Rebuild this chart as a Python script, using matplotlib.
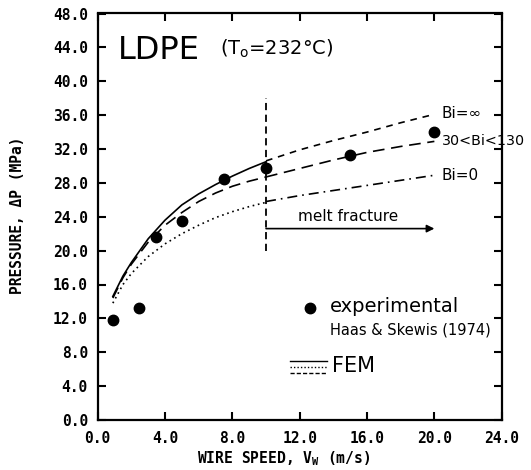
import matplotlib
matplotlib.use("Agg")
import matplotlib.pyplot as plt

# ---------------- data ----------------
exp_x = [0.9, 2.45, 3.45, 5.0, 7.5, 10.0, 15.0, 20.0]
exp_y = [11.8, 13.2, 21.6, 23.5, 28.4, 29.8, 31.3, 34.0]

# FEM curves, below melt-fracture limit (x <= 10)
fem_x_low = [0.9, 1.5, 2.0, 3.0, 4.0, 5.0, 6.0, 7.0, 8.0, 9.0, 10.0]
bi_inf_low = [14.6, 17.0, 18.6, 21.4, 23.6, 25.4, 26.7, 27.8, 28.8, 29.7, 30.5]
bi_mid_low = [14.4, 16.8, 18.4, 21.0, 23.0, 24.5, 25.8, 26.8, 27.6, 28.2, 28.7]
bi_zero_low = [13.8, 16.0, 17.3, 19.3, 20.8, 22.0, 23.0, 23.9, 24.6, 25.2, 25.7]

# FEM curves, above melt-fracture limit (x >= 10)
fem_x_high = [10.0, 12.0, 14.0, 16.0, 18.0, 20.0]
bi_inf_high = [30.6, 31.9, 33.0, 34.0, 35.1, 36.1]
bi_mid_high = [28.7, 29.7, 30.7, 31.6, 32.3, 32.9]
bi_zero_high = [25.8, 26.5, 27.1, 27.7, 28.3, 28.9]

melt_fracture_x = 10.0
x_ticks = [0, 4, 8, 12, 16, 20, 24]
x_ticklabels = ["0.0", "4.0", "8.0", "12.0", "16.0", "20.0", "24.0"]
y_ticks = [0, 4, 8, 12, 16, 20, 24, 28, 32, 36, 40, 44, 48]
y_ticklabels = ["0.0", "4.0", "8.0", "12.0", "16.0", "20.0", "24.0", "28.0",
                "32.0", "36.0", "40.0", "44.0", "48.0"]

# ---------------- figure ----------------
W, H = 531, 470
fig = plt.figure(figsize=(W / 100, H / 100), dpi=100)
L, R, T, B = 97.7, 501.7, 13.5, 420.0
ax = fig.add_axes([L / W, 1 - B / H, (R - L) / W, (B - T) / H])
ax.set_xlim(0, 24)
ax.set_ylim(0, 48)

mono = {"family": "DejaVu Sans Mono", "weight": "bold"}

ax.set_xticks(x_ticks)
ax.set_xticklabels(x_ticklabels, fontdict=dict(mono, size=10.5))
ax.set_yticks(y_ticks)
ax.set_yticklabels(y_ticklabels, fontdict=dict(mono, size=10.5))
ax.tick_params(direction="in", length=6, width=1.5, top=True, right=True,
               labeltop=False, labelright=False, pad=7)
ax.tick_params(axis="x", pad=8)
for s in ax.spines.values():
    s.set_linewidth(1.6)

lw = 1.2
# below melt fracture
ax.plot(fem_x_low, bi_inf_low, color="black", lw=lw, ls="-")
ax.plot(fem_x_low, bi_mid_low, color="black", lw=lw, ls=(0, (7, 4)))
ax.plot(fem_x_low, bi_zero_low, color="black", lw=lw, ls=(0, (1, 2.2)))
# above melt fracture
ax.plot(fem_x_high, bi_inf_high, color="black", lw=lw, ls=(0, (4, 3.5)))
ax.plot(fem_x_high, bi_mid_high, color="black", lw=lw, ls=(0, (7, 4)))
ax.plot(fem_x_high, bi_zero_high, color="black", lw=lw, ls=(0, (6, 3, 1, 3)))

# experimental points
ax.plot(exp_x, exp_y, "o", color="black", ms=7.5, ls="none")

# melt fracture vertical line and arrow
ax.plot([melt_fracture_x, melt_fracture_x], [20.0, 38.0], color="black",
        lw=1.3, ls=(0, (4, 2.5)))
ax.annotate("", xy=(20.0, 22.6), xytext=(melt_fracture_x, 22.6),
            arrowprops=dict(arrowstyle="-|>", color="black", lw=1.2,
                            mutation_scale=11, shrinkA=0, shrinkB=0))
ax.text(14.9, 24.0, "melt fracture", fontsize=11, ha="center", va="center")

# curve labels
ax.text(20.45, 36.2, "Bi=\u221e", fontsize=11, ha="left", va="center")
ax.text(20.45, 32.9, "30<Bi<130", fontsize=10.3, ha="left", va="center")
ax.text(20.45, 28.9, "Bi=0", fontsize=11, ha="left", va="center")

# title texts
ax.text(0.05, 0.91, "LDPE", transform=ax.transAxes, fontsize=23,
        ha="left", va="center")
ax.text(0.303, 0.912, r"(T$_\mathregular{o}$=232°C)", transform=ax.transAxes,
        fontsize=14, ha="left", va="center")

# legend
ax.plot([0.525], [0.275], "o", color="black", ms=7.5, transform=ax.transAxes)
ax.text(0.575, 0.279, "experimental", transform=ax.transAxes, fontsize=14,
        ha="left", va="center")
ax.text(0.575, 0.221, "Haas & Skewis (1974)", transform=ax.transAxes,
        fontsize=10.5, ha="left", va="center")
ax.plot([0.476, 0.567], [0.145, 0.145], color="black", lw=1.0,
        transform=ax.transAxes)
ax.plot([0.476, 0.567], [0.131, 0.131], color="black", lw=1.0,
        ls=(0, (1, 1.5)), transform=ax.transAxes)
ax.plot([0.476, 0.567], [0.116, 0.116], color="black", lw=1.0,
        ls=(0, (3, 1.5)), transform=ax.transAxes)
ax.text(0.58, 0.134, "FEM", transform=ax.transAxes, fontsize=15,
        ha="left", va="center")

# axis labels
fig.text(284 / W, 1 - 459 / H, r"WIRE SPEED, V$_\mathregular{W}$ (m/s)",
         fontdict=dict(mono, size=10.5), ha="center", va="center")
fig.text(18 / W, 1 - 215 / H, "PRESSURE, \u0394P (MPa)",
         fontdict=dict(mono, size=10.5), ha="center", va="center", rotation=90)

fig.savefig("out.png", dpi=100)
